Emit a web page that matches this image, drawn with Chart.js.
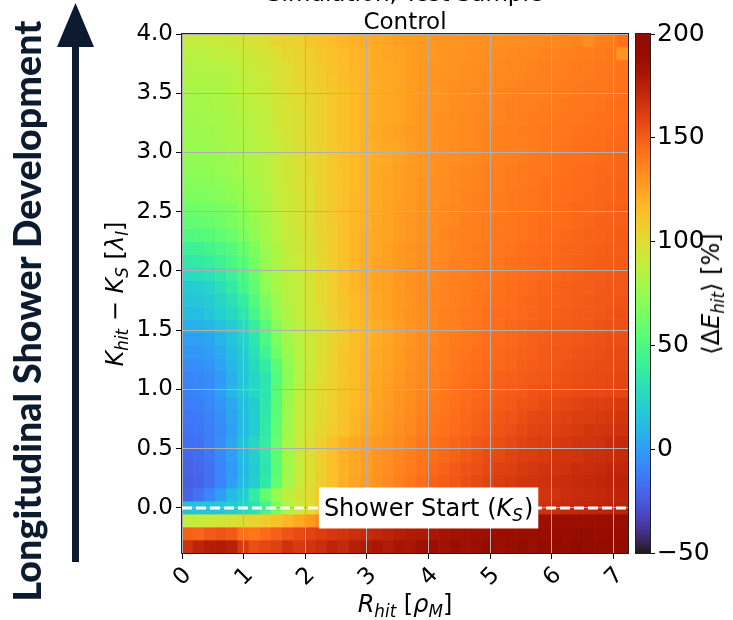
<!DOCTYPE html>
<html><head><meta charset="utf-8">
<script src="https://cdn.jsdelivr.net/npm/chart.js"></script>
<style>
html,body{margin:0;padding:0;background:#fff;}
#stage{position:relative;width:733px;height:620px;overflow:hidden;background:#fff;font-family:"DejaVu Sans",sans-serif;color:#000;}
canvas{position:absolute;top:0;}
.lbl{position:absolute;white-space:nowrap;font-size:24px;line-height:1;}
.rot{transform:translate(-50%,-50%) rotate(-90deg);}
.ctr{transform:translate(-50%,-50%);}
sub{font-size:0.7em;vertical-align:-0.28em;line-height:0;}
</style></head><body>
<div id="stage">
<canvas id="main" width="733" height="620" style="left:0"></canvas>
<canvas id="cbar" width="133" height="620" style="left:600px"></canvas>
<div class="lbl" id="title" style="left:405px;top:-21px;transform:translateX(-50%);text-align:center;line-height:28px;font-size:23px">Simulation, Test Sample<br>Control</div>
<div class="lbl rot" style="left:115px;top:294px"><i>K</i><sub><i>hit</i></sub> − <i>K</i><sub><i>S</i></sub> [<i>λ</i><sub><i>I</i></sub>]</div>
<div class="lbl ctr" style="left:405px;top:604px"><i>R</i><sub><i>hit</i></sub> [<i>ρ</i><sub><i>M</i></sub>]</div>
<div class="lbl rot" style="left:711px;top:294px">⟨Δ<i>E</i><sub><i>hit</i></sub>⟩ [%]</div>
<svg style="position:absolute;left:0;top:0" width="110" height="620">
  <rect x="72" y="40" width="7" height="522" fill="#0b1a2e"/>
  <polygon points="75.5,3 57,47 94,47" fill="#0b1a2e"/>
</svg>
<div class="lbl rot" id="ltext" style="left:27px;top:311px;font-family:Lato,'Open Sans',sans-serif;font-weight:900;color:#0d1b2e">Longitudinal Shower Development</div>
</div>
<script>
// ---- data ----
const xRange = [0, 7.235];          // R_hit [rho_M]
const yRange = [-0.38, 4.0];        // K_hit - K_S [lambda_I]
const xTickStep = 1;
const yTickStep = 0.5;
const cbarRange = [-50, 200];       // <Delta E_hit> [%]
const cbarTickStep = 50;
const showerStart = {x: 4.0, y: 0.0, text: 'Shower Start'};
// <Delta E_hit> [%] per cell; first row = lowest (y = -0.38), 40 columns from R = 0
const deltaE = [
[167,173,177,178,175,163,155,158,160,167,163,166,168,173,171,176,178,181,178,182,181,186,188,184,190,186,189,192,187,190,194,189,192,194,190,195,192,194,192,193],
[149,147,151,153,151,143,141,145,149,153,156,159,162,164,166,168,170,172,174,176,178,179,181,183,184,185,186,187,187,188,188,189,189,190,190,191,191,190,191,190],
[88,90,92,94,97,100,104,108,112,117,122,128,134,139,144,149,154,158,161,165,168,171,174,176,178,179,181,182,183,184,185,186,186,187,188,187,188,188,189,188],
[14,15,16,17,20,24,31,46,66,82,92,100,110,117,122,126,130,133,136,140,143,146,150,152,154,156,158,160,162,163,165,166,167,168,170,171,172,173,174,174],
[-21,-16,-9,0,12,20,37,58,76,87,95,101,110,117,122,126,129,132,135,138,141,144,147,149,151,153,155,157,159,161,163,164,165,166,168,169,170,171,172,173],
[-23,-21,-16,-9,0,12,20,36,58,79,91,99,106,113,120,124,127,131,134,137,141,144,148,150,152,155,157,159,162,163,165,166,167,168,169,170,171,172,173,174],
[-22,-20,-16,-9,-1,10,19,33,55,77,90,99,106,113,119,123,126,130,133,136,139,142,146,148,151,153,155,157,160,161,163,164,166,166,167,169,169,170,172,172],
[-20,-18,-14,-7,1,12,21,34,56,78,91,99,106,113,119,123,126,129,132,135,138,141,144,146,148,151,153,156,157,159,161,162,163,165,165,166,168,168,169,170],
[-17,-16,-11,-5,4,15,25,38,60,80,92,100,106,113,119,123,126,129,131,134,137,140,143,145,147,149,152,153,155,157,159,161,162,163,164,166,166,167,169,170],
[-15,-14,-11,-7,0,12,20,36,57,78,90,97,103,108,113,118,122,126,129,132,135,138,141,143,145,147,149,151,153,155,157,159,160,161,162,163,165,165,166,167],
[-14,-13,-10,-5,2,12,20,35,56,77,89,96,102,107,112,117,121,125,128,131,134,137,140,142,144,146,148,150,152,153,155,157,158,159,160,162,162,163,164,165],
[-12,-11,-8,-3,4,13,20,34,55,76,88,95,101,106,111,116,120,124,127,130,133,136,139,141,143,145,147,148,150,151,153,154,156,157,158,159,161,161,162,163],
[-10,-9,-6,0,10,18,25,33,54,74,87,95,101,106,111,116,120,124,127,130,133,135,138,140,142,144,146,147,149,150,151,153,154,155,155,156,157,157,158,158],
[-9,-8,-6,-1,7,16,24,33,52,71,84,93,100,105,110,115,120,123,126,129,132,134,137,139,141,143,145,146,148,149,150,151,152,153,154,155,156,156,157,158],
[-6,-5,-3,2,10,17,26,38,55,72,84,92,99,104,110,115,119,122,125,128,131,134,136,138,140,142,144,145,146,147,149,150,151,152,153,154,155,156,156,157],
[-3,-3,0,5,13,19,30,45,62,76,85,92,98,104,110,114,119,122,125,128,131,133,136,138,140,141,143,144,146,147,148,149,151,152,152,153,154,155,156,156],
[0,0,3,9,16,22,33,50,66,78,86,92,98,104,109,114,118,121,124,127,130,133,135,137,139,141,142,144,145,146,147,149,150,151,151,152,153,154,155,155],
[7,8,11,15,20,26,38,54,70,80,87,93,98,104,109,114,118,121,124,127,130,132,135,137,138,140,142,143,144,146,147,148,149,150,150,151,152,153,154,154],
[12,13,17,21,26,33,47,62,74,83,89,95,100,106,111,116,120,123,126,128,131,133,135,137,138,140,141,143,144,145,146,147,148,149,150,151,151,152,153,154],
[16,17,20,24,30,38,52,66,77,85,90,96,101,106,111,116,120,123,126,128,130,133,135,136,138,139,141,142,143,144,146,147,148,148,149,150,151,152,152,153],
[19,20,24,30,36,47,57,72,80,86,90,96,101,107,113,117,121,124,126,128,131,133,135,136,137,139,140,141,143,144,145,146,147,148,149,150,150,151,152,152],
[27,28,31,35,41,50,60,73,81,87,91,97,102,107,113,117,121,124,126,129,131,133,134,136,137,138,140,141,142,143,144,145,146,147,148,149,150,150,151,152],
[35,36,39,43,48,55,64,75,82,88,92,97,102,108,113,117,121,124,126,128,130,132,134,135,137,138,139,140,141,143,144,145,146,146,147,148,149,150,150,151],
[42,43,46,49,54,60,67,77,83,89,93,98,103,108,113,117,121,123,126,128,130,132,134,135,136,138,139,140,141,142,143,144,145,146,147,147,148,149,150,150],
[51,52,54,57,61,66,72,79,85,90,94,98,103,108,113,117,121,123,125,127,129,131,133,135,136,137,138,139,140,141,142,143,144,145,146,147,148,148,149,150],
[57,58,60,62,66,70,75,80,86,91,95,99,104,109,113,117,120,123,125,127,129,131,133,134,135,137,138,139,140,141,142,143,144,144,145,146,147,148,148,149],
[61,62,63,65,68,72,77,82,87,92,96,99,104,109,113,117,120,122,125,127,129,131,132,134,135,136,137,138,139,140,141,142,143,144,145,146,146,147,148,149],
[66,67,68,70,73,76,79,83,88,92,96,100,104,109,113,117,120,122,124,126,128,130,132,133,134,136,137,138,139,140,141,142,143,143,144,145,146,147,147,148],
[69,70,71,72,75,77,80,84,89,93,97,100,105,109,113,116,120,122,124,126,128,130,132,133,134,135,136,137,138,139,140,141,142,143,144,145,145,146,147,148],
[72,72,73,75,77,79,82,85,89,93,97,101,105,109,113,116,119,122,124,126,128,129,131,132,134,135,136,137,138,139,140,141,141,142,143,144,145,146,146,147],
[74,74,75,76,78,80,83,86,90,94,98,101,105,109,113,116,119,121,123,125,127,129,131,132,133,134,135,136,137,138,139,140,141,142,143,143,144,145,146,147],
[76,76,77,78,80,82,84,87,90,94,98,101,105,109,112,116,119,121,123,125,127,129,130,132,133,134,135,136,137,138,138,139,140,141,142,143,144,144,145,146],
[77,77,78,79,81,83,85,88,92,95,99,102,106,110,113,116,120,122,124,126,128,129,131,132,133,134,135,136,137,138,139,139,140,141,141,142,143,143,144,145],
[78,78,79,80,82,84,86,89,93,96,99,102,106,110,113,116,119,121,123,125,127,129,131,132,133,134,135,135,136,137,138,139,139,140,141,141,142,143,143,144],
[79,79,80,81,83,85,87,90,94,97,100,103,106,110,113,116,119,121,123,125,127,129,130,131,132,133,134,135,136,137,137,138,139,139,140,141,141,142,143,144],
[80,80,81,82,84,86,88,91,95,98,101,104,107,110,113,116,119,121,123,125,127,128,130,131,132,133,134,134,135,136,137,137,138,139,139,140,141,141,142,143],
[82,82,82,83,85,87,89,92,96,99,102,105,108,111,114,117,119,121,123,125,127,128,130,131,131,132,133,134,135,135,136,137,137,138,139,139,140,141,141,142],
[83,84,84,85,87,89,91,94,97,100,103,106,109,112,115,117,120,122,123,125,127,128,130,130,131,132,133,133,134,135,135,136,137,137,138,139,139,140,141,142],
[86,86,87,88,89,91,93,96,99,102,104,107,110,113,115,118,120,122,124,125,127,128,129,130,131,131,132,133,133,134,135,135,136,136,137,138,138,139,140,130],
[90,90,91,92,93,95,97,100,103,105,107,110,112,115,117,119,121,123,124,126,127,128,129,130,130,131,131,132,132,133,133,134,134,135,135,136,133,137,138,143]
];

// ---- turbo colormap ----
function turbo(t){
  t = Math.min(1, Math.max(0, t));
  const r = 0.13572138 + t*(4.61539260 + t*(-42.66032258 + t*(132.13108234 + t*(-152.94239396 + t*59.28637943))));
  const g = 0.09140261 + t*(2.19418839 + t*(4.84296658 + t*(-14.18503333 + t*(4.27729857 + t*2.82956604))));
  const b = 0.10667330 + t*(12.64194608 + t*(-60.58204836 + t*(110.36276771 + t*(-89.90310912 + t*27.34824973))));
  const f = v => Math.round(255*Math.min(1, Math.max(0, v)));
  return 'rgb(' + f(r) + ',' + f(g) + ',' + f(b) + ')';
}
const norm = v => (v - cbarRange[0]) / (cbarRange[1] - cbarRange[0]);

// ---- build cells ----
const nRows = deltaE.length, nCols = deltaE[0].length;
const dx = (xRange[1] - xRange[0]) / nCols, dy = (yRange[1] - yRange[0]) / nRows;
const cells = [], cellColors = [];
deltaE.forEach((row, r) => row.forEach((v, c) => {
  cells.push({x: xRange[0] + (c + 0.5) * dx, y: [yRange[0] + r * dy, yRange[0] + (r + 1) * dy]});
  cellColors.push(turbo(norm(v)));
}));

// ---- fit left annotation text ----
(function(){
  const c = document.createElement('canvas').getContext('2d');
  c.font = '900 100px Lato';
  const w = c.measureText('Longitudinal Shower Development').width;
  document.getElementById('ltext').style.fontSize = (100 * 582 / w).toFixed(2) + 'px';
})();

const FONT = 'DejaVu Sans';
const overlay = {
  id: 'overlay',
  afterDraw(chart){
    const {ctx, chartArea: a, scales: {x, y}} = chart;
    ctx.save();
    const y0 = y.getPixelForValue(showerStart.y);
    ctx.strokeStyle = '#fff'; ctx.lineWidth = 3; ctx.setLineDash([10, 4]);
    ctx.beginPath(); ctx.moveTo(a.left, y0); ctx.lineTo(a.right, y0); ctx.stroke();
    ctx.setLineDash([]);
    const fs = 24;
    const fN = fs + 'px "' + FONT + '"', fI = 'italic ' + fs + 'px "' + FONT + '"', fS = 'italic ' + (fs*0.7).toFixed(1) + 'px "' + FONT + '"';
    const p1 = showerStart.text + ' (';
    ctx.font = fN; const w1 = ctx.measureText(p1).width, w3 = ctx.measureText(')').width;
    ctx.font = fI; const wK = ctx.measureText('K').width;
    ctx.font = fS; const wS = ctx.measureText('S').width;
    const tw = w1 + wK + wS + w3 + 1;
    const cx = x.getPixelForValue(showerStart.x);
    const bx = cx - tw/2 - 5;
    ctx.fillStyle = '#fff';
    ctx.fillRect(bx, y0 - 20.5, tw + 10, 41);
    ctx.fillStyle = '#000'; ctx.textBaseline = 'alphabetic'; ctx.textAlign = 'left';
    let px = cx - tw/2; const base = y0 + 8;
    ctx.font = fN; ctx.fillText(p1, px, base); px += w1;
    ctx.font = fI; ctx.fillText('K', px, base); px += wK;
    ctx.font = fS; ctx.fillText('S', px, base + 5); px += wS + 1;
    ctx.font = fN; ctx.fillText(')', px, base);
    ctx.strokeStyle = '#222'; ctx.lineWidth = 1;
    ctx.strokeRect(Math.round(a.left) - 0.5, Math.round(a.top) - 0.5, Math.round(a.right - a.left) + 1, Math.round(a.bottom - a.top) + 1);
    ctx.restore();
  }
};

const gridOpts = {z: 1, offset: false, color: '#b0b0b0', lineWidth: 1, tickColor: '#000', tickLength: 6, tickWidth: 1};

new Chart(document.getElementById('main'), {
  type: 'bar',
  data: {datasets: [{data: cells, backgroundColor: cellColors, borderWidth: 0, barPercentage: 1, categoryPercentage: 1, grouped: false}]},
  options: {
    responsive: false, animation: false, events: [],
    layout: {padding: {left: 0, right: 105, top: 34, bottom: 0}},
    plugins: {legend: {display: false}, tooltip: {enabled: false}, title: {display: false}},
    scales: {
      x: {type: 'linear', min: xRange[0], max: xRange[1], offset: false, grid: gridOpts, border: {display: false},
          ticks: {stepSize: xTickStep, includeBounds: false, autoSkip: false, minRotation: 45, maxRotation: 45, labelOffset: 6, color: '#000', font: {family: FONT, size: 23}, padding: 3, callback: v => String(v)},
          afterFit: s => { s.height = 67; }},
      y: {type: 'linear', min: yRange[0], max: yRange[1], grid: gridOpts, border: {display: false},
          ticks: {stepSize: yTickStep, includeBounds: false, autoSkip: false, color: '#000', font: {family: FONT, size: 23}, padding: 3, callback: v => v.toFixed(1)},
          afterFit: s => { s.width = 182; }}
    }
  },
  plugins: [overlay]
});

const cbFrame = {
  id: 'cbFrame',
  afterDraw(chart){
    const {ctx, chartArea: a} = chart;
    ctx.save(); ctx.strokeStyle = '#222'; ctx.lineWidth = 1;
    ctx.strokeRect(Math.round(a.left) - 0.5, Math.round(a.top) - 0.5, Math.round(a.right - a.left) + 1, Math.round(a.bottom - a.top) + 1);
    ctx.restore();
  }
};

new Chart(document.getElementById('cbar'), {
  type: 'bar',
  data: {labels: [''], datasets: [{data: [cbarRange], borderWidth: 0, barPercentage: 1, categoryPercentage: 1,
    backgroundColor: c => {
      const a = c.chart.chartArea; if (!a) return '#000';
      const g = c.chart.ctx.createLinearGradient(0, a.bottom, 0, a.top);
      for (let i = 0; i <= 64; i++) g.addColorStop(i/64, turbo(i/64));
      return g;
    }}]},
  options: {
    responsive: false, animation: false, events: [],
    layout: {padding: {left: 36, right: 0, top: 34, bottom: 67}},
    plugins: {legend: {display: false}, tooltip: {enabled: false}},
    scales: {
      x: {display: false},
      y: {position: 'right', min: cbarRange[0], max: cbarRange[1], border: {display: false},
          grid: {drawOnChartArea: false, tickColor: '#000', tickLength: 5, tickWidth: 1},
          ticks: {stepSize: cbarTickStep, color: '#000', font: {family: FONT, size: 25}, padding: 2, callback: v => String(v).replace('-', '\u2212')},
          afterFit: s => { s.width = 133 - 36 - 14; }}
    }
  },
  plugins: [cbFrame]
});
</script>
</body></html>
